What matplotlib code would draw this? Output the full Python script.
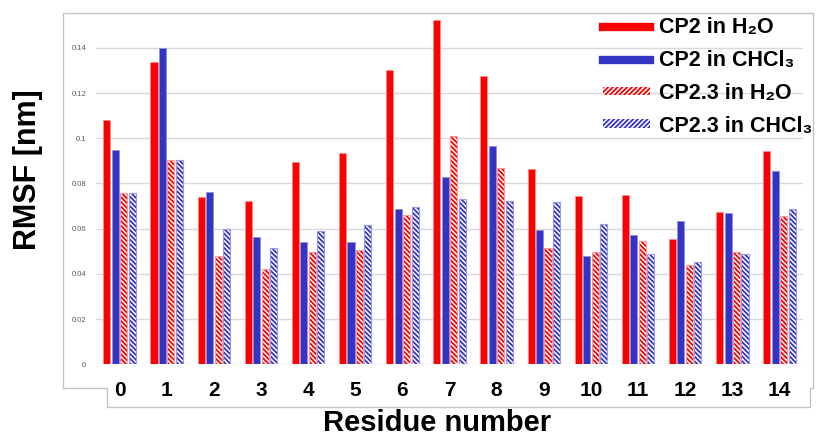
import numpy as np
import matplotlib
matplotlib.use("Agg")
import matplotlib.pyplot as plt
from matplotlib.patches import Patch
from matplotlib.lines import Line2D

plt.rcParams['font.family'] = ['Liberation Sans', 'DejaVu Sans']
plt.rcParams['hatch.linewidth'] = 1.3

residues = list(range(15))
cp2_h2o = [0.108, 0.1336, 0.074, 0.0721, 0.0894, 0.0935, 0.1304, 0.1522,
           0.1274, 0.0864, 0.0745, 0.0749, 0.0554, 0.0675, 0.0944]
cp2_chcl3 = [0.095, 0.140, 0.0764, 0.0563, 0.0541, 0.0541, 0.0689, 0.0829,
             0.0967, 0.0593, 0.0479, 0.0572, 0.0634, 0.0671, 0.0857]
cp23_h2o = [0.076, 0.0903, 0.0479, 0.0423, 0.0498, 0.0504, 0.0661, 0.101,
            0.087, 0.0513, 0.0498, 0.0546, 0.0438, 0.0498, 0.0655]
cp23_chcl3 = [0.076, 0.0903, 0.060, 0.0513, 0.0591, 0.0615, 0.0697, 0.073,
              0.0723, 0.0717, 0.062, 0.0488, 0.0451, 0.0488, 0.0689]
yticks = [0, 0.02, 0.04, 0.06, 0.08, 0.1, 0.12, 0.14]
ytick_labels = ['0', '0.02', '0.04', '0.06', '0.08', '0.1', '0.12', '0.14']

red = '#fa0000'
blue = '#3434c4'
W, H = 822, 440

fig = plt.figure(figsize=(W / 100, H / 100), dpi=100)
ax = fig.add_axes([96 / W, 1 - 364.3 / H, 707 / W, 350.3 / H])

x = np.arange(len(residues))
pitch = 0.18
bw = 0.15

ax.bar(x - 1.5 * pitch, cp2_h2o, bw, color=red, edgecolor='#ff8a8a', lw=0.6, zorder=3)
ax.bar(x - 0.5 * pitch, cp2_chcl3, bw, color=blue, edgecolor='#8f8fe0', lw=0.6, zorder=3)
# hatched series: hatch first, then a lighter outline on top
ax.bar(x + 0.5 * pitch, cp23_h2o, bw, color='white', edgecolor=red, hatch='\\' * 7, lw=0, zorder=3)
ax.bar(x + 0.5 * pitch, cp23_h2o, bw, color='none', edgecolor='#ff9a9a', lw=0.8, zorder=4)
ax.bar(x + 1.5 * pitch, cp23_chcl3, bw, color='white', edgecolor=blue, hatch='\\' * 7, lw=0, zorder=3)
ax.bar(x + 1.5 * pitch, cp23_chcl3, bw, color='none', edgecolor='#9a9ae6', lw=0.8, zorder=4)

ax.set_xlim(-0.5, 14.5)
ax.set_ylim(0, 0.155)
ax.set_yticks(yticks)
ax.set_yticklabels(ytick_labels, fontsize=5.5, color='#595959')
ax.set_xticks(x)
ax.set_xticklabels([str(r) for r in residues], fontsize=15, fontweight='bold')
ax.tick_params(axis='both', length=0)
ax.tick_params(axis='y', pad=7)
ax.tick_params(axis='x', pad=12)
ax.grid(axis='y', color='#d9d9d9', lw=1.0, zorder=0)
for s in ax.spines.values():
    s.set_visible(False)

ax.set_xlabel('Residue number', fontsize=21, fontweight='bold', va='center')
ax.xaxis.set_label_coords(0.482, -0.168)
ax.set_ylabel('RMSF [nm]', fontsize=22, fontweight='bold', va='center')
ax.yaxis.set_label_coords(-0.096, 0.555)

handles = [
    Line2D([], [], color=red, lw=6),
    Line2D([], [], color=blue, lw=6),
    Patch(facecolor='white', edgecolor=red, hatch='/' * 7, lw=0),
    Patch(facecolor='white', edgecolor=blue, hatch='/' * 7, lw=0),
]
labels = ['CP2 in H\u2082O', 'CP2 in CHCl\u2083', 'CP2.3 in H\u2082O', 'CP2.3 in CHCl\u2083']
ax.legend(handles, labels, loc='upper left', bbox_to_anchor=(603 / W, 1 - 17 / H),
          bbox_transform=fig.transFigure, frameon=False, borderpad=0, borderaxespad=0,
          handlelength=2.2, handleheight=0.25, handletextpad=0.4, labelspacing=0.55,
          prop={'size': 15.5, 'weight': 'bold'})

# chart-area frame with the stepped bottom edge
px = [63, 63, 813, 813, 810, 810, 107, 107, 63]
py = [388, 13, 13, 388, 388, 407, 407, 388, 388]
fig.add_artist(Line2D([p / W for p in px], [1 - p / H for p in py],
                      transform=fig.transFigure, color='#c4c4c4', lw=1.0))

plt.savefig('out.png', dpi=100)
